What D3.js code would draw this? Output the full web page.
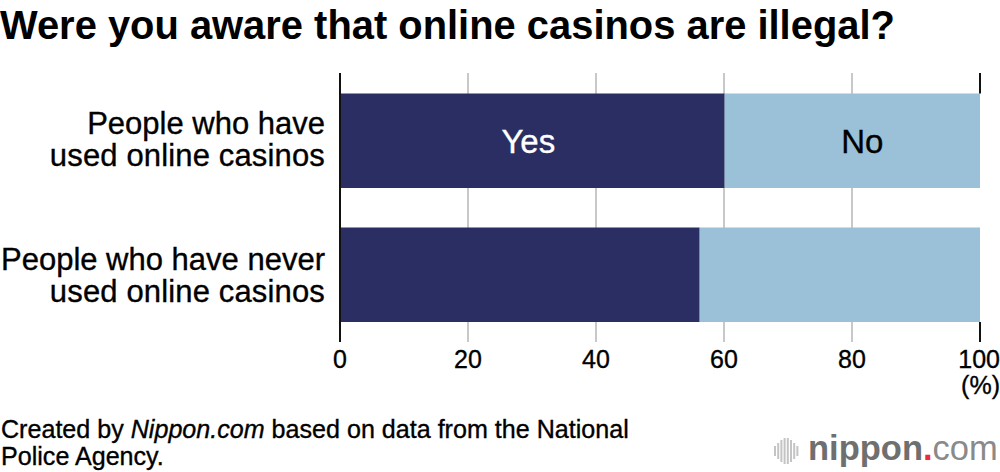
<!DOCTYPE html>
<html><head><meta charset="utf-8">
<script src="https://cdn.jsdelivr.net/npm/d3@7/dist/d3.min.js"></script>
<style>html,body{margin:0;padding:0;background:#fff}svg{display:block}text{font-family:"Liberation Sans",Arial,sans-serif;fill:#000}.m{stroke:#000;stroke-width:.35px}</style>
</head><body><svg id="c" width="1000" height="472"></svg>
<script>
const titleText = "Were you aware that online casinos are illegal?";
const categoryLines = [["People who have","used online casinos"],["People who have never","used online casinos"]];
const groups = ["People who have used","People who have never used"];
const yes = [60.1, 56.2];
const no = [39.9, 43.8];
const ticks = [0,20,40,60,80,100];
const sourceLines = [[["Created by ",false],["Nippon.com",true],[" based on data from the National",false]],[["Police Agency.",false]]];
const logoBars = [10,16,22,26,26,22,16,10];

const svg = d3.select("#c");
const x = d3.scaleLinear().domain([0,100]).range([340,980]);
const bw = 94.5;
const yPos = d => d===groups[0] ? 93.5 : 227.5;

svg.append("text").attr("x",0).attr("y",39).attr("font-size",39.9).attr("font-weight",700).text(titleText);

const plot = svg.append("g");
plot.selectAll("line.grid").data(ticks.slice(1,-1)).join("line")
  .attr("x1",x).attr("x2",x).attr("y1",73).attr("y2",342).attr("stroke","#c8c8c8").attr("stroke-width",2);

plot.selectAll("rect.yes").data(groups).join("rect").attr("class","yes")
  .attr("x",x(0)).attr("y",yPos).attr("height",bw)
  .attr("width",(d,i)=>x(yes[i])-x(0)).attr("fill","#2a2e63");
plot.selectAll("rect.no").data(groups).join("rect").attr("class","no")
  .attr("x",(d,i)=>x(yes[i])).attr("y",yPos).attr("height",bw)
  .attr("width",(d,i)=>x(yes[i]+no[i])-x(yes[i])).attr("fill","#9ac1d8");

plot.append("line").attr("x1",x(0)).attr("x2",x(0)).attr("y1",73).attr("y2",342).attr("stroke","#111").attr("stroke-width",2);
plot.append("line").attr("x1",x(100)).attr("x2",x(100)).attr("y1",73).attr("y2",93.5).attr("stroke","#111").attr("stroke-width",2);
plot.append("line").attr("x1",x(100)).attr("x2",x(100)).attr("y1",322).attr("y2",342).attr("stroke","#111").attr("stroke-width",2);

plot.append("text").attr("x",x(yes[0]/2)-4).attr("y",153).attr("text-anchor","middle").attr("font-size",33).style("fill","#fff").style("stroke","#fff").style("stroke-width",".35px").text("Yes");
plot.append("text").attr("class","m").attr("x",x(yes[0]+no[0]/2)+10).attr("y",153).attr("text-anchor","middle").attr("font-size",33).text("No");

categoryLines.forEach((ls,i)=>{
  ls.forEach((t,j)=>{
    svg.append("text").attr("class","m").attr("x",325).attr("y",yPos(groups[i])+40+(i?2.5:0)+j*32).attr("text-anchor","end").attr("font-size",31).attr("letter-spacing",j===1?0.15:0).text(t);
  });
});

svg.selectAll("text.tick").data(ticks).join("text").attr("class","tick m")
  .attr("x",x).attr("y",368).attr("text-anchor",d=>d===100?"end":"middle").attr("dx",d=>d===100?20:0).attr("font-size",25).text(d=>d);
svg.append("text").attr("class","m").attr("x",1000).attr("y",394).attr("text-anchor","end").attr("font-size",25).text("(%)");

sourceLines.forEach((parts,i)=>{
  const t = svg.append("text").attr("class","m").attr("x",1).attr("y",437.5+i*27.5).attr("font-size",25.1);
  parts.forEach(p=>t.append("tspan").attr("font-style",p[1]?"italic":"normal").text(p[0]));
});

const logo = svg.append("g");
logo.selectAll("rect").data(logoBars).join("rect")
  .attr("x",(d,i)=>774+i*3.2).attr("y",d=>451-d/2).attr("width",2).attr("height",d=>d).attr("fill","#c4c4c4");
const lt = logo.append("text").attr("x",808).attr("y",460).attr("font-size",34.5).attr("font-family","'Open Sans',sans-serif");
lt.append("tspan").attr("font-weight",600).style("fill","#6f6f6f").text("nippon");
lt.append("tspan").attr("font-weight",600).style("fill","#f0283c").text(".");
lt.append("tspan").attr("font-weight",300).style("fill","#8a8a8a").text("com");
</script></body></html>
